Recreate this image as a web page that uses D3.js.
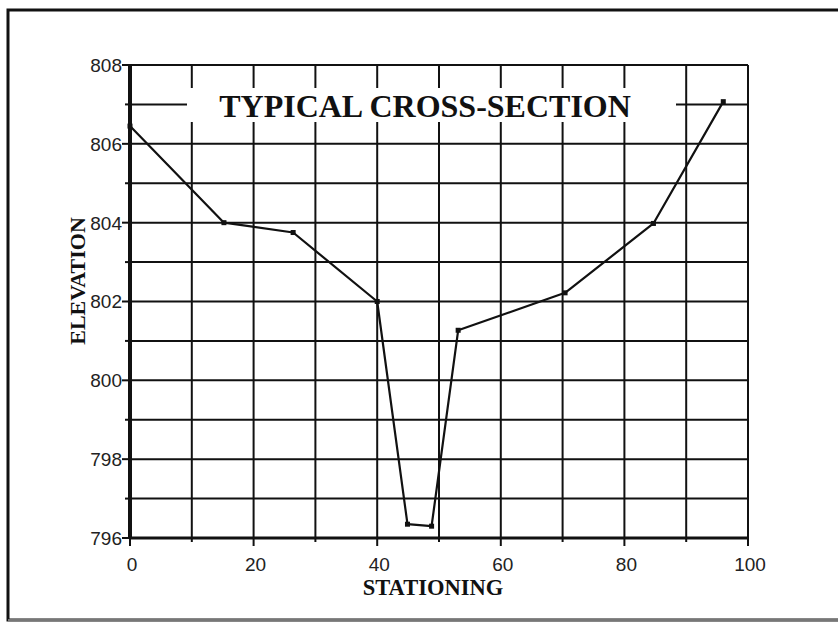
<!DOCTYPE html>
<html>
<head>
<meta charset="utf-8">
<script src="https://cdn.jsdelivr.net/npm/d3@7"></script>
<style>
  html, body { margin: 0; padding: 0; background: #fff; }
  svg { display: block; }
</style>
</head>
<body>
<svg id="chart" width="838" height="622"></svg>
<script>
// Surveyed cross-section: station (ft) vs ground elevation (ft)
const stations   = [0, 15.2, 26.4, 40, 44.9, 48.8, 53.1, 70.4, 84.7, 96];
const elevations = [806.45, 804.0, 803.75, 802.0, 796.35, 796.3, 801.27, 802.22, 803.98, 807.07];

const xTicks = [0, 20, 40, 60, 80, 100];
const yTicks = [796, 798, 800, 802, 804, 806, 808];
const xGrid  = d3.range(10, 101, 10);
const yGrid  = d3.range(797, 808, 1);

const title  = "TYPICAL CROSS-SECTION";
const xTitle = "STATIONING";
const yTitle = "ELEVATION";

const svg = d3.select("#chart");
const W = 838, H = 622;
const margin = { left: 130, right: W - 748, top: 65, bottom: H - 538 };

const x = d3.scaleLinear().domain([0, 100]).range([margin.left, W - margin.right]);
const y = d3.scaleLinear().domain([796, 808]).range([H - margin.bottom, margin.top]);

const ink = "#111";

// outer frame
svg.append("path")
  .attr("d", `M840,10 H8 V620 H840`)
  .attr("fill", "none").attr("stroke", ink).attr("stroke-width", 3);
svg.append("line")
  .attr("x1", 8).attr("x2", 840).attr("y1", 620).attr("y2", 620)
  .attr("stroke", "#777").attr("stroke-width", 2);

// grid
const grid = svg.append("g").attr("stroke", ink).attr("stroke-width", 2);
grid.selectAll("line.v").data(xGrid).join("line").attr("class", "v")
  .attr("x1", d => x(d)).attr("x2", d => x(d))
  .attr("y1", y(796)).attr("y2", y(808));
grid.selectAll("line.h").data(yGrid.concat([808])).join("line").attr("class", "h")
  .attr("x1", x(0)).attr("x2", x(100))
  .attr("y1", d => y(d)).attr("y2", d => y(d));

// tick marks (every 10 on x, every 1 on y)
svg.append("g").attr("stroke", ink).attr("stroke-width", 2)
  .selectAll("line").data(d3.range(0, 101, 10)).join("line")
  .attr("x1", d => x(d)).attr("x2", d => x(d))
  .attr("y1", y(796)).attr("y2", d => y(796) + (d % 20 === 0 ? 8 : 4));
svg.append("g").attr("stroke", ink).attr("stroke-width", 2)
  .selectAll("line").data(d3.range(796, 809, 1)).join("line")
  .attr("x1", d => x(0) - (d % 2 === 0 ? 8 : 5)).attr("x2", x(0))
  .attr("y1", d => y(d)).attr("y2", d => y(d));

// axis lines
svg.append("line").attr("x1", x(0)).attr("x2", x(0)).attr("y1", y(796) + 1).attr("y2", y(808))
  .attr("stroke", ink).attr("stroke-width", 4);
svg.append("line").attr("x1", x(0)).attr("x2", x(100)).attr("y1", y(796)).attr("y2", y(796))
  .attr("stroke", ink).attr("stroke-width", 3);

// tick labels
const tickFont = "'Liberation Sans', Arial, sans-serif";
svg.append("g").selectAll("text").data(xTicks).join("text")
  .attr("x", d => x(d) + 2).attr("y", y(796) + 33)
  .attr("text-anchor", "middle")
  .attr("font-family", tickFont).attr("font-size", 19).attr("fill", "#222")
  .text(d => d);
svg.append("g").selectAll("text").data(yTicks).join("text")
  .attr("x", x(0) - 8).attr("y", d => y(d)).attr("dy", "0.36em")
  .attr("text-anchor", "end")
  .attr("font-family", tickFont).attr("font-size", 19).attr("fill", "#222")
  .text(d => d);

// title box knocks out the grid behind it
svg.append("rect")
  .attr("x", 187).attr("y", 88).attr("width", 489).attr("height", 34)
  .attr("fill", "#fff");

const serif = "'Liberation Serif', 'Times New Roman', serif";
svg.append("text")
  .attr("x", 425).attr("y", 117)
  .attr("text-anchor", "middle")
  .attr("font-family", serif).attr("font-weight", "bold").attr("font-size", 32)
  .attr("fill", ink)
  .text(title);

// axis titles
svg.append("text")
  .attr("x", 433).attr("y", 595)
  .attr("text-anchor", "middle")
  .attr("font-family", serif).attr("font-weight", "bold").attr("font-size", 22.5)
  .attr("fill", ink)
  .text(xTitle);
svg.append("text")
  .attr("transform", `translate(85,281) rotate(-90)`)
  .attr("text-anchor", "middle")
  .attr("font-family", serif).attr("font-weight", "bold").attr("font-size", 22)
  .attr("fill", ink)
  .text(yTitle);

// profile line and survey points
const pts = stations.map((s, i) => [s, elevations[i]]);
svg.append("path")
  .datum(pts)
  .attr("fill", "none").attr("stroke", ink).attr("stroke-width", 2.2)
  .attr("stroke-linejoin", "round")
  .attr("d", d3.line().x(d => x(d[0])).y(d => y(d[1])));
svg.append("g").selectAll("rect").data(pts).join("rect")
  .attr("x", d => x(d[0]) - 2.5).attr("y", d => y(d[1]) - 2.5)
  .attr("width", 5).attr("height", 5).attr("fill", ink);
</script>
</body>
</html>
